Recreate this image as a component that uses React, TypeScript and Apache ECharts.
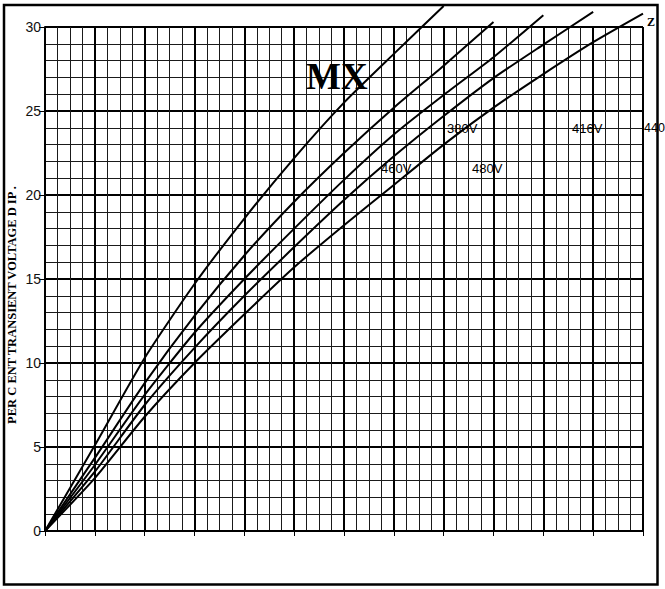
import React, { useEffect, useRef } from "react";
import * as echarts from "echarts";

// x positions (grid units, major divisions)
const xSteps = [0, 1, 2, 3, 4, 5, 6, 7, 8, 9, 10, 11, 12];

// Percent transient voltage dip curves (one value per x step)
const curveA = [0, 5.1, 10.3, 14.7, 18.6, 22.2, 25.5, 28.4, 31.25];
const curveB = [0, 4.35, 8.8, 12.8, 16.4, 19.6, 22.5, 25.2, 27.7, 30.3];
const curveC = [0, 3.93, 8.1, 11.8, 15.0, 18.0, 20.9, 23.6, 25.95, 28.2, 30.7];
const curveD = [0, 3.53, 7.5, 10.9, 14.0, 16.9, 19.7, 22.3, 24.7, 26.96, 28.95, 30.9];
const curveE = [0, 3.15, 6.8, 10.0, 12.9, 15.7, 18.2, 20.6, 23.0, 25.2, 27.2, 29.1, 30.8];

const curves = [curveA, curveB, curveC, curveD, curveE];

const yMin = 0;
const yMax = 30;
const yInterval = 5;

const title = "MX";
const yTitle = "PER C ENT TRANSIENT VOLTAGE D IP .";
const voltLabels = ["380V", "416V", "440", "460V", "480V"];
const cornerLabel = "Z";

export default function App() {
  const ref = useRef<HTMLDivElement>(null);

  useEffect(() => {
    if (!ref.current) return;
    const chart = echarts.init(ref.current, null, { renderer: "svg" });

    const series = curves.map((c, i) => ({
      type: "line",
      name: "c" + i,
      data: c.map((v, k) => [xSteps[k], v]),
      symbol: "none",
      showSymbol: false,
      smooth: 0.2,
      clip: false,
      silent: true,
      lineStyle: { color: "#000", width: 2 },
      z: 5,
    }));

    const labelFont = "Liberation Sans, Arial, sans-serif";
    const serif = "Liberation Serif, Times New Roman, serif";

    const voltText = (text: string, x: number, y: number, size = 13) => ({
      type: "text",
      x,
      y,
      style: { text, fontFamily: labelFont, fontSize: size, fill: "#000", textVerticalAlign: "middle" },
      z: 6,
    });

    chart.setOption({
      animation: false,
      backgroundColor: "#fff",
      grid: { left: 45, top: 27, width: 598, height: 504, containLabel: false },
      xAxis: {
        type: "value",
        min: 0,
        max: 12,
        interval: 1,
        axisLine: { show: true, lineStyle: { color: "#000", width: 2 } },
        axisTick: { show: true, inside: false, length: 5, lineStyle: { color: "#000", width: 1 } },
        axisLabel: { show: false },
        splitLine: { show: true, lineStyle: { color: "#000", width: 2 } },
        minorTick: { show: false, splitNumber: 4 },
        minorSplitLine: { show: true, lineStyle: { color: "#1a1a1a", width: 1 } },
      },
      yAxis: {
        type: "value",
        min: yMin,
        max: yMax,
        interval: yInterval,
        axisLine: { show: true, lineStyle: { color: "#000", width: 2 } },
        axisTick: { show: true, inside: false, length: 6, lineStyle: { color: "#000", width: 1 } },
        axisLabel: {
          show: true,
          margin: 4,
          color: "#111",
          fontFamily: labelFont,
          fontSize: 14,
        },
        splitLine: { show: true, lineStyle: { color: "#000", width: 2 } },
        minorTick: { show: false, splitNumber: 5 },
        minorSplitLine: { show: true, lineStyle: { color: "#1a1a1a", width: 1 } },
      },
      series,
      graphic: [
        {
          type: "rect",
          shape: { x: 4, y: 5, width: 653.5, height: 579.5 },
          style: { fill: "none", stroke: "#000", lineWidth: 2.5 },
          z: 10,
          silent: true,
        },
        {
          type: "text",
          x: 306,
          y: 76,
          style: {
            text: title,
            fontFamily: serif,
            fontWeight: "bold",
            fontSize: 37,
            fill: "#000",
            textVerticalAlign: "middle",
          },
          z: 3,
        },
        {
          type: "text",
          x: 12,
          y: 305,
          rotation: Math.PI / 2,
          style: {
            text: yTitle,
            fontFamily: serif,
            fontWeight: "bold",
            fontSize: 12.5,
            fill: "#000",
            textAlign: "center",
            textVerticalAlign: "middle",
          },
        },
        voltText(voltLabels[0], 447, 128),
        voltText(voltLabels[1], 572, 128),
        voltText(voltLabels[2], 644, 128, 12.5),
        voltText(voltLabels[3], 381, 168),
        voltText(voltLabels[4], 472, 168),
        {
          type: "text",
          x: 647,
          y: 22,
          style: {
            text: cornerLabel,
            fontFamily: serif,
            fontWeight: "bold",
            fontSize: 12,
            fill: "#000",
            textVerticalAlign: "middle",
          },
          z: 6,
        },
      ],
    });

    return () => chart.dispose();
  }, []);

  return (
    <div
      ref={ref}
      style={{ position: "absolute", left: 0, top: 0, width: 665, height: 589 }}
    />
  );
}
